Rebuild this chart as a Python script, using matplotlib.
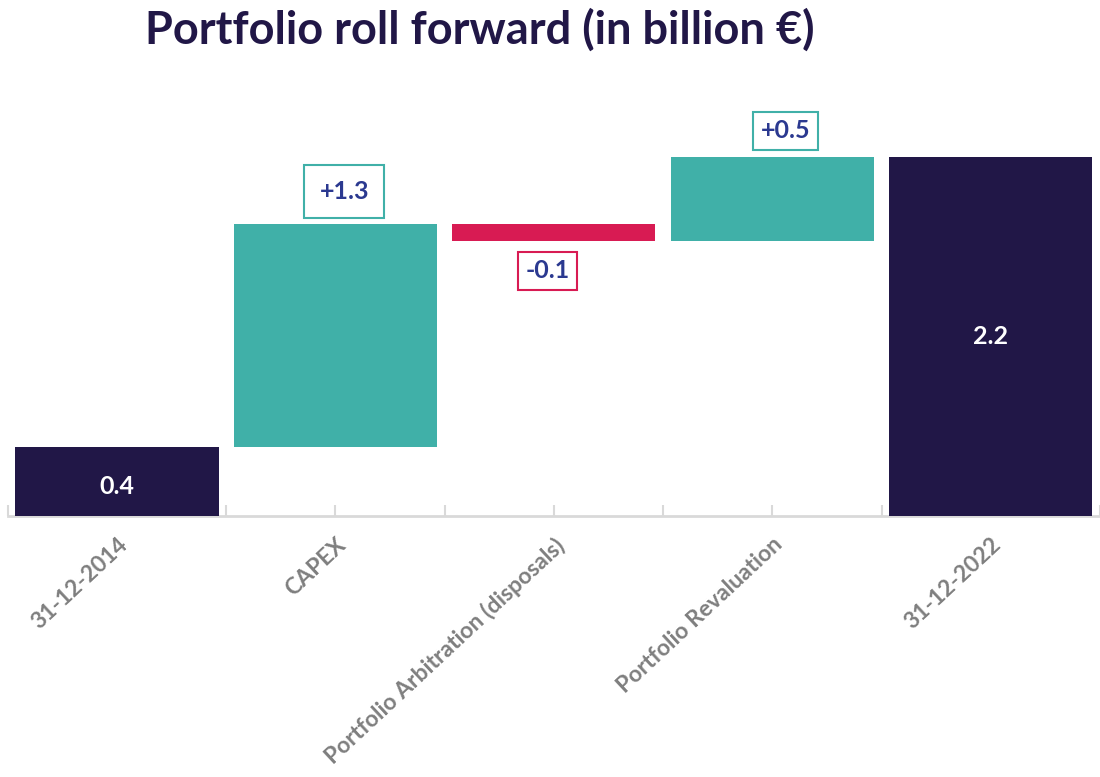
import matplotlib.pyplot as plt
import numpy as np

# data (bar heights estimated from pixels, labels as printed)
categories = ['31-12-2014', 'CAPEX', 'Portfolio Arbitration (disposals)',
              'Portfolio Revaluation', '31-12-2022']
values = [0.40, 1.29, -0.10, 0.49, 2.08]
kinds = ['total', 'delta', 'delta', 'delta', 'total']
value_labels = ['0.4', '+1.3', '-0.1', '+0.5', '2.2']

navy = '#211747'
teal = '#40B0A8'
crimson = '#D81B53'
label_blue = '#2B3990'
gray = '#7F7F7F'
axis_gray = '#D9D9D9'

# box placement tweaks per delta bar: (dx, dy, pad)
box_style = {1: (0.04, 0.19, 0.6), 2: (-0.03, -0.17, 0.3), 3: (0.06, 0.15, 0.3)}

plt.rcParams['font.family'] = ['Lato', 'DejaVu Sans']

fig = plt.figure(figsize=(11, 7.77), dpi=100)
ax = fig.add_axes([0.007, 0.336, 0.993, 0.60])

x = np.arange(len(categories))
bottoms = []
heights = []
colors = []
running = 0.0
for v, k in zip(values, kinds):
    if k == 'total':
        bottoms.append(0)
        heights.append(v)
        colors.append(navy)
        running = v
    else:
        if v >= 0:
            bottoms.append(running)
            colors.append(teal)
        else:
            bottoms.append(running + v)
            colors.append(crimson)
        heights.append(abs(v))
        running += v

ax.bar(x, heights, bottom=bottoms, width=0.93, color=colors, zorder=2)

# labels
for i, (lab, k, v) in enumerate(zip(value_labels, kinds, values)):
    top = bottoms[i] + heights[i]
    if k == 'total':
        ax.text(i, bottoms[i] + heights[i] / 2 - (0.03 if i == 0 else 0), lab,
                ha='center', va='center', color='white', fontsize=18,
                fontweight='bold', zorder=3)
    else:
        dx, dy, pad = box_style[i]
        y = top + dy if v >= 0 else bottoms[i] + dy
        ax.text(i + dx, y, lab, ha='center', va='center',
                color=label_blue, fontsize=18, fontweight='bold', zorder=3,
                bbox=dict(boxstyle=f'square,pad={pad}', fc='white',
                          ec=teal if v >= 0 else crimson, lw=1.5))

ax.set_xlim(-0.5, len(categories) - 1 + 0.46)
ax.set_ylim(0, 2.7)

for side in ['left', 'right', 'top']:
    ax.spines[side].set_visible(False)
ax.spines['bottom'].set_color(axis_gray)
ax.spines['bottom'].set_linewidth(2)
ax.spines['bottom'].set_zorder(1)

ax.set_yticks([])
ax.set_xticks(x)
ax.set_xticks(np.arange(-0.5, len(categories), 1.0), minor=True)
ax.tick_params(axis='x', which='both', direction='in', length=8, width=1.5,
               color=axis_gray, pad=13)
ax.set_xticklabels(categories, rotation=43, ha='right', rotation_mode='anchor',
                   color=gray, fontsize=16.5, fontweight='bold')
for t in ax.get_xticklabels():
    t.set_zorder(3)

fig.text(0.436, 0.961, 'Portfolio roll forward (in billion €)', ha='center', va='center',
         fontsize=32.5, fontweight='bold', color=navy)

fig.savefig('out.png', dpi=100)
